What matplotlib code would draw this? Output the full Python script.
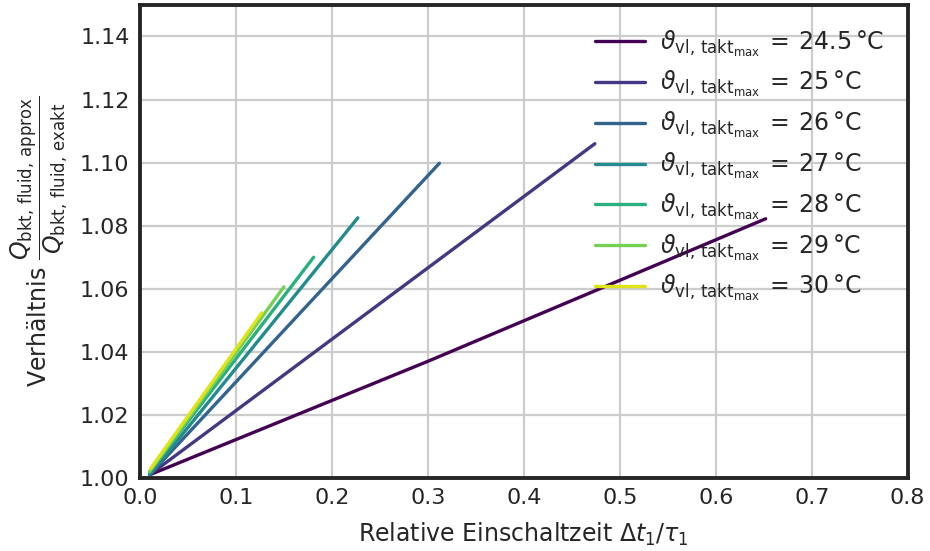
'''Verhaeltnis approx/exakt ueber relative Einschaltzeit'''

import numpy as np
import matplotlib
matplotlib.use('Agg')
import matplotlib.pyplot as plt
import seaborn as sns

# values
temps = ['24.5', '25', '26', '27', '28', '29', '30']
x_vals = [
	[0.010, 0.300, 0.652],
	[0.010, 0.474],
	[0.010, 0.312],
	[0.010, 0.227],
	[0.010, 0.181],
	[0.010, 0.150],
	[0.011, 0.127],
]
y_vals = [
	[1.001, 1.037, 1.0822],
	[1.001, 1.106],
	[1.001, 1.0998],
	[1.001, 1.0825],
	[1.002, 1.070],
	[1.002, 1.0606],
	[1.003, 1.0524],
]
x_ticks = [0.0, 0.1, 0.2, 0.3, 0.4, 0.5, 0.6, 0.7, 0.8]
y_ticks = [1.00, 1.02, 1.04, 1.06, 1.08, 1.10, 1.12, 1.14]

sns.set_style('whitegrid')
plt.rcParams['font.family'] = ['DejaVu Sans']
plt.rcParams['mathtext.fontset'] = 'dejavusans'

fig = plt.figure(figsize=(9.3, 5.51), dpi=100)
ax = fig.add_axes([0.1505, 0.1325, 0.8255, 0.8585])

colors = plt.cm.viridis(np.linspace(0, 0.95, len(temps)))
for i in range(len(temps)):
	lbl = r'$\vartheta_{\mathrm{vl,\,takt_{max}}}\:=\:' + temps[i] + r'\,\mathrm{°C}$'
	ax.plot(x_vals[i], y_vals[i], '-', color=colors[i], lw=2.4, label=lbl)

ax.set_xlim(0, 0.8)
ax.set_ylim(1.0, 1.15)
ax.set_xticks(x_ticks)
ax.set_yticks(y_ticks)
ax.set_xticklabels(['%.1f' % t for t in x_ticks])
ax.set_yticklabels(['%.2f' % t for t in y_ticks])
ax.tick_params(labelsize=16, colors='#262626', pad=4)
ax.grid(True, color='#cccccc', lw=1.6)

for s in ax.spines.values():
	s.set_color('#262626')
	s.set_linewidth(2.8)

ax.set_xlabel(r'Relative Einschaltzeit $\Delta t_1/\tau_1$', fontsize=17, color='#262626', labelpad=9)
ax.set_ylabel(r'Verhältnis $\dfrac{Q_{\mathrm{bkt,\,fluid,\,approx}}}{Q_{\mathrm{bkt,\,fluid,\,exakt}}}$',
	fontsize=17, color='#262626', labelpad=7)

leg = ax.legend(loc='upper right', fontsize=17, frameon=False, handlelength=2.1,
	labelspacing=0.45, borderaxespad=0.6, handletextpad=0.65)
for t in leg.get_texts():
	t.set_color('#262626')

fig.savefig('out.png', dpi=100)
